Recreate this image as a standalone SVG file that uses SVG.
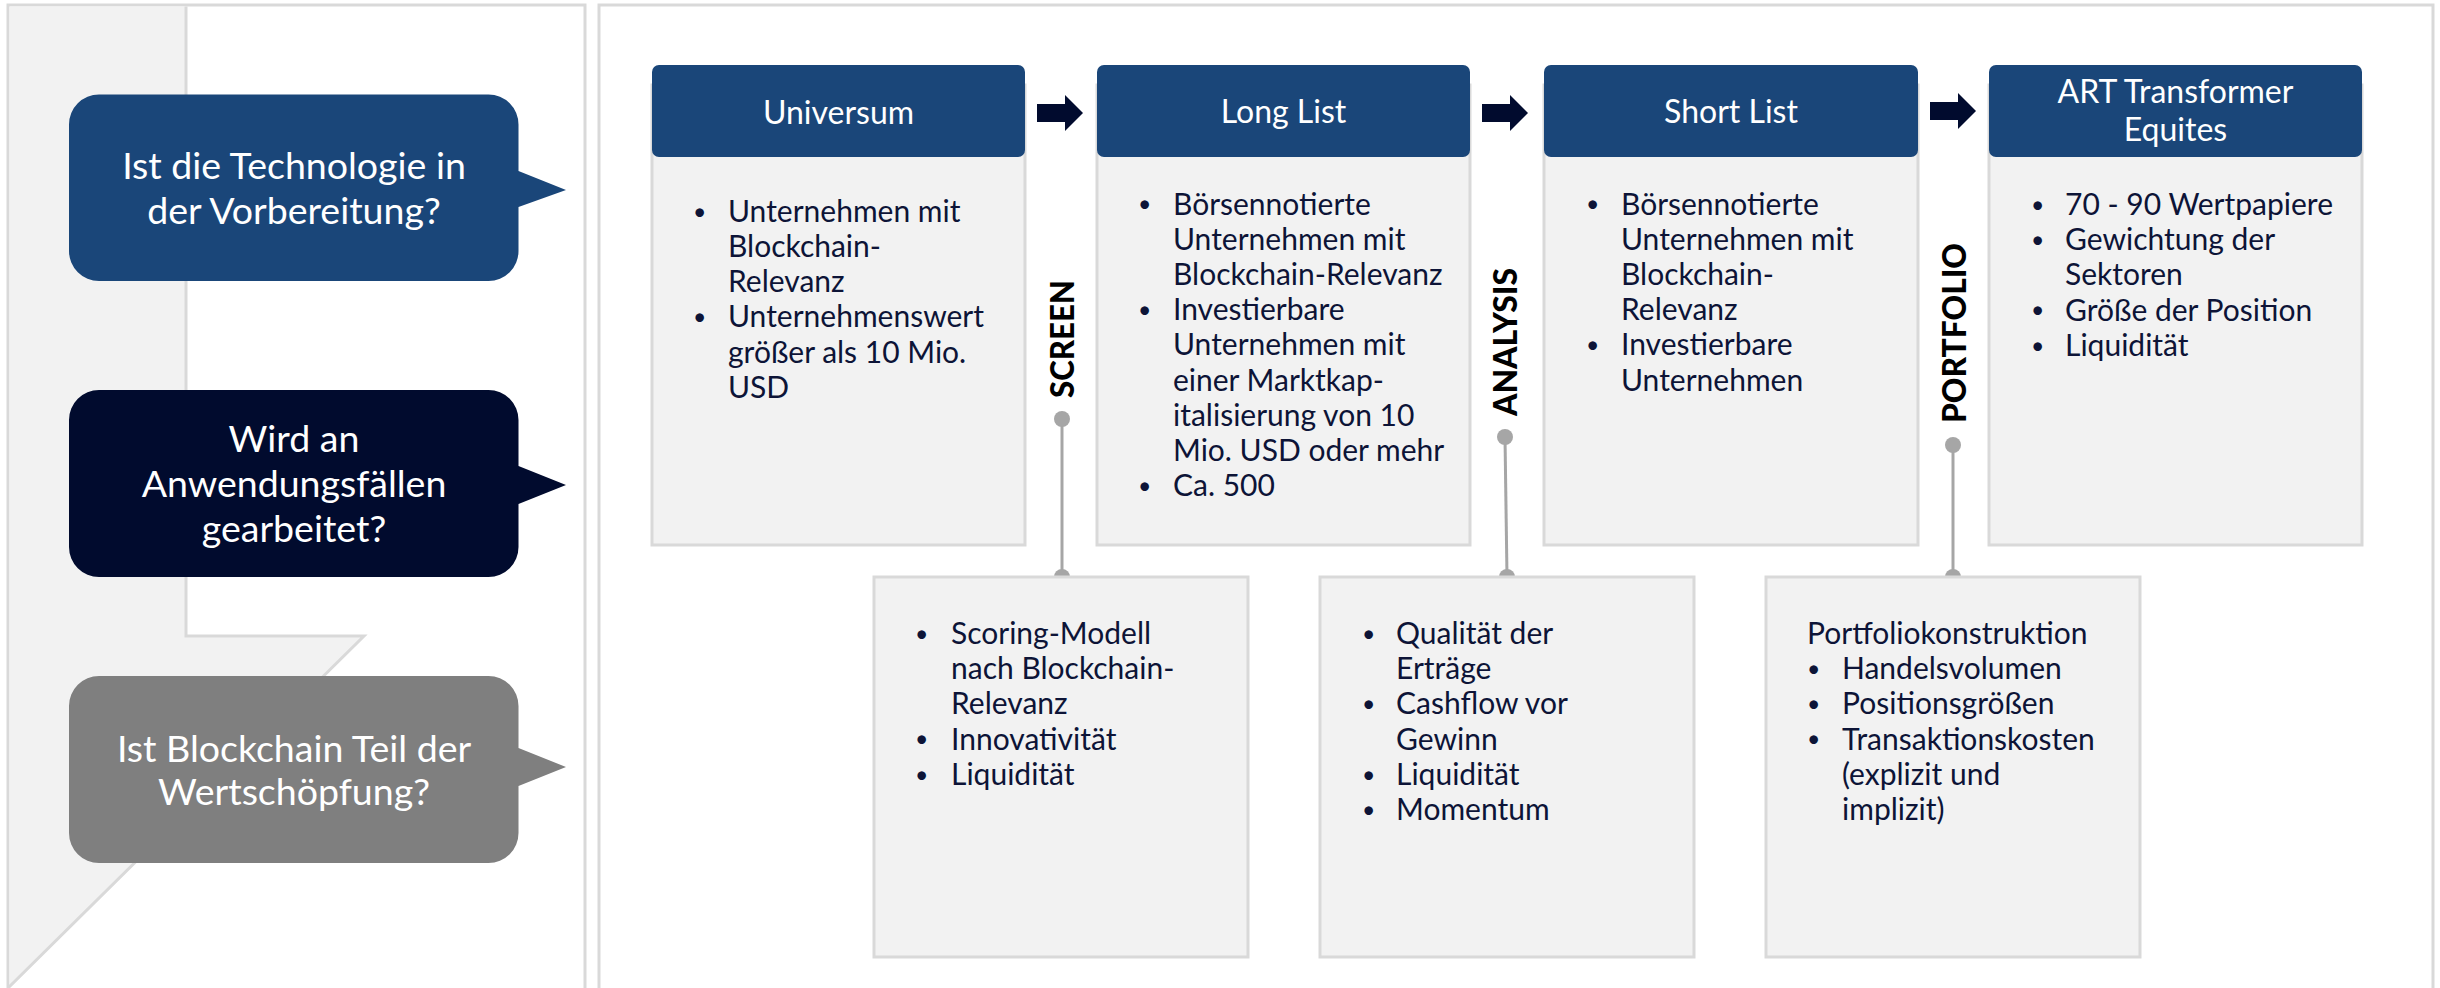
<svg xmlns="http://www.w3.org/2000/svg" width="2440" height="988" viewBox="0 0 2440 988">
<style>
.frame{fill:#ffffff;stroke:#d9d9d9;stroke-width:3}
.gshape{fill:#f2f2f2;stroke:none}
.gline{fill:none;stroke:#d9d9d9;stroke-width:3}
.q{font-family:Lato,"Liberation Sans",sans-serif;font-size:37.5px;fill:#ffffff;text-anchor:middle}
.body{fill:#f2f2f2;stroke:#d9d9d9;stroke-width:3}
.head{fill:#1a4679}
.ht{font-family:Lato,"Liberation Sans",sans-serif;font-size:32px;fill:#ffffff;text-anchor:middle}
.bt{font-family:Lato,"Liberation Sans",sans-serif;font-size:30px;fill:#0d1437}
.b{font-size:23px}
.lbl{font-family:Lato,"Liberation Sans",sans-serif;font-weight:900;font-size:33px;fill:#000000}
.arrow{fill:#010b2e}
.conn{stroke:#a6a6a6;stroke-width:3;fill:none}
.dot{fill:#a6a6a6}
</style>

<!-- left panel -->
<g id="left-panel">
  <rect class="frame" x="8" y="5" width="577" height="990"/>
  <polygon class="gshape" points="9.5,6.5 186,6.5 186,636 364,636 9.5,986"/>
  <polyline class="gline" points="186,6.5 186,636 364,636 8,988"/>
</g>

<g id="q1">
  <path fill="#1a4679" d="M99,94.5 H488.5 A30,30 0 0 1 518.5,124.5 V171 L566,190 L518.5,207 V251 A30,30 0 0 1 488.5,281 H99 A30,30 0 0 1 69,251 V124.5 A30,30 0 0 1 99,94.5 Z"/>
  <text class="q" x="294" y="179">Ist die Technologie in</text>
  <text class="q" x="294" y="224">der Vorbereitung?</text>
</g>
<g id="q2">
  <path fill="#010b2e" d="M99,390 H488.5 A30,30 0 0 1 518.5,420 V466 L566,485 L518.5,504 V547 A30,30 0 0 1 488.5,577 H99 A30,30 0 0 1 69,547 V420 A30,30 0 0 1 99,390 Z"/>
  <text class="q" x="294" y="452">Wird an</text>
  <text class="q" x="294" y="497">Anwendungsfällen</text>
  <text class="q" x="294" y="541.5">gearbeitet?</text>
</g>
<g id="q3">
  <path fill="#7f7f7f" d="M99,676 H488.5 A30,30 0 0 1 518.5,706 V748 L566,767 L518.5,786 V833 A30,30 0 0 1 488.5,863 H99 A30,30 0 0 1 69,833 V706 A30,30 0 0 1 99,676 Z"/>
  <text class="q" x="294" y="762">Ist Blockchain Teil der</text>
  <text class="q" x="294" y="805">Wertschöpfung?</text>
</g>

<!-- right panel -->
<g id="right-panel">
  <rect class="frame" x="599" y="5" width="1834" height="990"/>
</g>

<!-- connectors -->
<g id="connectors">
  <polygon class="arrow" points="1037,104 1065,104 1065,95 1083,113 1065,131 1065,122 1037,122"/>
  <polygon class="arrow" points="1482,104 1510,104 1510,95 1528,113 1510,131 1510,122 1482,122"/>
  <polygon class="arrow" points="1930,102 1958,102 1958,93 1976,111 1958,129 1958,120 1930,120"/>
  <line class="conn" x1="1062" y1="419" x2="1062" y2="577"/>
  <circle class="dot" cx="1062" cy="419" r="8"/>
  <circle class="dot" cx="1062" cy="577" r="8"/>
  <line class="conn" x1="1505" y1="437" x2="1507" y2="577"/>
  <circle class="dot" cx="1505" cy="437" r="8"/>
  <circle class="dot" cx="1507" cy="577" r="8"/>
  <line class="conn" x1="1953" y1="445" x2="1953" y2="577"/>
  <circle class="dot" cx="1953" cy="445" r="8"/>
  <circle class="dot" cx="1953" cy="577" r="8"/>
</g>

<g id="label-screen">
  <text class="lbl" transform="translate(1074,398) rotate(-90)" x="0" y="0" textLength="118" lengthAdjust="spacingAndGlyphs">SCREEN</text>
</g>
<g id="label-analysis">
  <text class="lbl" transform="translate(1517,416) rotate(-90)" x="0" y="0" textLength="148" lengthAdjust="spacingAndGlyphs">ANALYSIS</text>
</g>
<g id="label-portfolio">
  <text class="lbl" transform="translate(1966,423) rotate(-90)" x="0" y="0" textLength="180" lengthAdjust="spacingAndGlyphs">PORTFOLIO</text>
</g>

<!-- top boxes -->
<g id="universum">
  <rect class="body" x="652" y="85" width="373" height="460"/>
  <rect class="head" x="652" y="65" width="373" height="92" rx="7"/>
  <text class="ht" x="838.5" y="124">Universum</text>
  <text class="bt">
    <tspan class="b" x="693" y="219.5">•</tspan><tspan x="728" y="221.7">Unternehmen mit</tspan>
    <tspan x="728" y="256.9">Blockchain-</tspan>
    <tspan x="728" y="292.1">Relevanz</tspan>
    <tspan class="b" x="693" y="325">•</tspan><tspan x="728" y="327.3">Unternehmenswert</tspan>
    <tspan x="728" y="362.5">größer als 10 Mio.</tspan>
    <tspan x="728" y="397.7">USD</tspan>
  </text>
</g>

<g id="longlist">
  <rect class="body" x="1097" y="85" width="373" height="460"/>
  <rect class="head" x="1097" y="65" width="373" height="92" rx="7"/>
  <text class="ht" x="1283.5" y="123">Long List</text>
  <text class="bt">
    <tspan class="b" x="1138" y="212.3">•</tspan><tspan x="1173" y="214.5">Börsennotierte</tspan>
    <tspan x="1173" y="249.7">Unternehmen mit</tspan>
    <tspan x="1173" y="284.9">Blockchain-Relevanz</tspan>
    <tspan class="b" x="1138" y="317.9">•</tspan><tspan x="1173" y="320.1">Investierbare</tspan>
    <tspan x="1173" y="355.3">Unternehmen mit</tspan>
    <tspan x="1173" y="390.5">einer Marktkap-</tspan>
    <tspan x="1173" y="425.7">italisierung von 10</tspan>
    <tspan x="1173" y="460.9">Mio. USD oder mehr</tspan>
    <tspan class="b" x="1138" y="493.9">•</tspan><tspan x="1173" y="496.1">Ca. 500</tspan>
  </text>
</g>

<g id="shortlist">
  <rect class="body" x="1544" y="85" width="374" height="460"/>
  <rect class="head" x="1544" y="65" width="374" height="92" rx="7"/>
  <text class="ht" x="1731" y="123">Short List</text>
  <text class="bt">
    <tspan class="b" x="1586" y="212.3">•</tspan><tspan x="1621" y="214.5">Börsennotierte</tspan>
    <tspan x="1621" y="249.7">Unternehmen mit</tspan>
    <tspan x="1621" y="284.9">Blockchain-</tspan>
    <tspan x="1621" y="320.1">Relevanz</tspan>
    <tspan class="b" x="1586" y="353.1">•</tspan><tspan x="1621" y="355.3">Investierbare</tspan>
    <tspan x="1621" y="390.5">Unternehmen</tspan>
  </text>
</g>

<g id="art">
  <rect class="body" x="1989" y="85" width="373" height="460"/>
  <rect class="head" x="1989" y="65" width="373" height="92" rx="7"/>
  <text class="ht" x="2175.5" y="103">ART Transformer</text>
  <text class="ht" x="2175.5" y="141">Equites</text>
  <text class="bt">
    <tspan class="b" x="2031" y="212.8">•</tspan><tspan x="2065" y="215">70 - 90 Wertpapiere</tspan>
    <tspan class="b" x="2031" y="248">•</tspan><tspan x="2065" y="250.2">Gewichtung der</tspan>
    <tspan x="2065" y="285.4">Sektoren</tspan>
    <tspan class="b" x="2031" y="318.4">•</tspan><tspan x="2065" y="320.6">Größe der Position</tspan>
    <tspan class="b" x="2031" y="353.6">•</tspan><tspan x="2065" y="355.8">Liquidität</tspan>
  </text>
</g>

<!-- bottom boxes -->
<g id="screen-box">
  <rect class="body" x="874" y="577" width="374" height="380"/>
  <text class="bt">
    <tspan class="b" x="915" y="641.8">•</tspan><tspan x="951" y="644">Scoring-Modell</tspan>
    <tspan x="951" y="679.2">nach Blockchain-</tspan>
    <tspan x="951" y="714.4">Relevanz</tspan>
    <tspan class="b" x="915" y="747.4">•</tspan><tspan x="951" y="749.6">Innovativität</tspan>
    <tspan class="b" x="915" y="782.6">•</tspan><tspan x="951" y="784.8">Liquidität</tspan>
  </text>
</g>

<g id="analysis-box">
  <rect class="body" x="1320" y="577" width="374" height="380"/>
  <text class="bt">
    <tspan class="b" x="1362" y="641.8">•</tspan><tspan x="1396" y="644">Qualität der</tspan>
    <tspan x="1396" y="679.2">Erträge</tspan>
    <tspan class="b" x="1362" y="712.2">•</tspan><tspan x="1396" y="714.4">Cashflow vor</tspan>
    <tspan x="1396" y="749.6">Gewinn</tspan>
    <tspan class="b" x="1362" y="782.6">•</tspan><tspan x="1396" y="784.8">Liquidität</tspan>
    <tspan class="b" x="1362" y="817.8">•</tspan><tspan x="1396" y="820">Momentum</tspan>
  </text>
</g>

<g id="portfolio-box">
  <rect class="body" x="1766" y="577" width="374" height="380"/>
  <text class="bt">
    <tspan x="1807" y="644">Portfoliokonstruktion</tspan>
    <tspan class="b" x="1807" y="677">•</tspan><tspan x="1842" y="679.2">Handelsvolumen</tspan>
    <tspan class="b" x="1807" y="712.2">•</tspan><tspan x="1842" y="714.4">Positionsgrößen</tspan>
    <tspan class="b" x="1807" y="747.4">•</tspan><tspan x="1842" y="749.6">Transaktionskosten</tspan>
    <tspan x="1842" y="784.8">(explizit und</tspan>
    <tspan x="1842" y="820">implizit)</tspan>
  </text>
</g>
</svg>
